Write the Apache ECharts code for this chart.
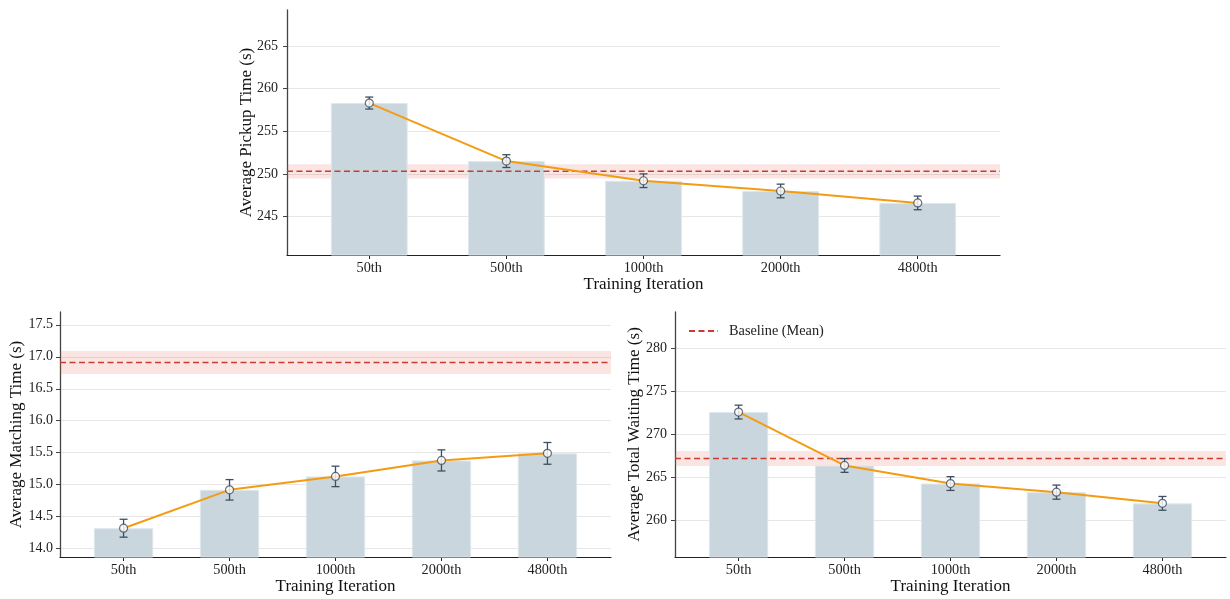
<!DOCTYPE html>
<html>
<head>
<meta charset="utf-8">
<script src="https://cdn.jsdelivr.net/npm/echarts@6/dist/echarts.min.js"></script>
<style>
  html, body { margin: 0; padding: 0; background: #fff; }
  #main { width: 1230px; height: 599px; }
</style>
</head>
<body>
<div id="main"></div>
<script>
// Training checkpoints shown on every x axis
const iterations = ['50th', '500th', '1000th', '2000th', '4800th'];

// Average pickup time (s)
const pickupMean = [258.3, 251.5, 249.2, 248.0, 246.6];
const pickupErr = [0.7, 0.75, 0.8, 0.8, 0.8];
const pickupBaseline = 250.3;
const pickupBaselineSpread = 0.84;
const pickupTicks = [245, 250, 255, 260, 265];

// Average matching time (s)
const matchingMean = [14.32, 14.92, 15.13, 15.38, 15.49];
const matchingErr = [0.14, 0.16, 0.16, 0.165, 0.17];
const matchingBaseline = 16.91;
const matchingBaselineSpread = 0.18;
const matchingTicks = [14.0, 14.5, 15.0, 15.5, 16.0, 16.5, 17.0, 17.5];

// Average total waiting time (s)
const waitingMean = [272.6, 266.4, 264.3, 263.3, 262.0];
const waitingErr = [0.8, 0.8, 0.8, 0.82, 0.8];
const waitingBaseline = 267.2;
const waitingBaselineSpread = 0.87;
const waitingTicks = [260, 265, 270, 275, 280];

const FONT = '"Liberation Serif", "Times New Roman", serif';
const X_MIN = -0.6, X_MAX = 4.6;
const BAR_FRACTION = 0.56;
const xPositions = iterations.map((_, i) => i);

const panels = [
  { title: 'Average Pickup Time (s)', mean: pickupMean, err: pickupErr,
    base: pickupBaseline, spread: pickupBaselineSpread, ticks: pickupTicks,
    grid: { left: 287, top: 10, width: 713, height: 245 },
    yMin: 240.5, yMax: 269.2, digits: 0, nameGap: 32, labelMargin: 9 },
  { title: 'Average Matching Time (s)', mean: matchingMean, err: matchingErr,
    base: matchingBaseline, spread: matchingBaselineSpread, ticks: matchingTicks,
    grid: { left: 60, top: 312, width: 551, height: 245 },
    yMin: 13.87, yMax: 17.7, digits: 1, nameGap: 35, labelMargin: 7 },
  { title: 'Average Total Waiting Time (s)', mean: waitingMean, err: waitingErr,
    base: waitingBaseline, spread: waitingBaselineSpread, ticks: waitingTicks,
    grid: { left: 675, top: 312, width: 551, height: 245 },
    yMin: 255.77, yMax: 284.22, digits: 0, nameGap: 32, labelMargin: 8 }
];

const grids = [], xAxes = [], yAxes = [], series = [];

panels.forEach((p, k) => {
  grids.push(p.grid);
  xAxes.push({
    gridIndex: k, type: 'value', min: X_MIN, max: X_MAX,
    axisLine: { show: true, onZero: false, lineStyle: { color: '#222', width: 1.2 } },
    axisTick: { show: true, customValues: xPositions, length: 4, lineStyle: { color: '#222' } },
    axisLabel: { customValues: xPositions, formatter: v => iterations[Math.round(v)],
      fontFamily: FONT, fontSize: 14.3, color: '#222', margin: 6 },
    splitLine: { show: false },
    name: 'Training Iteration', nameLocation: 'middle', nameGap: 21,
    nameMoveOverlap: false,
    nameTextStyle: { fontFamily: FONT, fontSize: 17, color: '#111' }
  });
  yAxes.push({
    gridIndex: k, type: 'value', min: p.yMin, max: p.yMax,
    axisLine: { show: true, onZero: false, lineStyle: { color: '#444', width: 1.3 } },
    axisTick: { show: true, customValues: p.ticks, length: 4, lineStyle: { color: '#444' } },
    axisLabel: { customValues: p.ticks, formatter: v => v.toFixed(p.digits),
      fontFamily: FONT, fontSize: 14, color: '#222', margin: p.labelMargin },
    splitLine: { show: true, lineStyle: { color: '#e6e6e6', width: 1 } },
    name: p.title, nameLocation: 'middle', nameGap: p.nameGap, nameRotate: 90,
    nameMoveOverlap: false,
    nameTextStyle: { fontFamily: FONT, fontSize: 17, color: '#111' }
  });

  const barWidth = p.grid.width * BAR_FRACTION / (X_MAX - X_MIN);

  series.push({
    type: 'bar', xAxisIndex: k, yAxisIndex: k, clip: true, z: 1,
    barWidth: barWidth,
    data: p.mean.map((v, i) => [i, v]),
    itemStyle: { color: '#cad6de', borderColor: '#dfe7ec', borderWidth: 1 },
    silent: true
  });

  series.push({
    name: 'Baseline (Mean)', type: 'line', xAxisIndex: k, yAxisIndex: k, z: 2,
    data: [[X_MIN, p.base], [X_MAX, p.base]],
    symbol: 'none',
    lineStyle: { color: '#cc3a30', width: 1.5, type: [6, 3.5] },
    itemStyle: { color: '#cc3a30' },
    markArea: {
      silent: true,
      itemStyle: { color: 'rgba(231, 100, 90, 0.17)' },
      data: [[{ yAxis: p.base - p.spread }, { yAxis: p.base + p.spread }]]
    },
    silent: true
  });

  series.push({
    type: 'line', xAxisIndex: k, yAxisIndex: k, z: 3,
    data: p.mean.map((v, i) => [i, v]),
    symbol: 'none',
    lineStyle: { color: '#f39c12', width: 2 },
    silent: true
  });

  series.push({
    type: 'custom', xAxisIndex: k, yAxisIndex: k, z: 4,
    data: p.mean.map((v, i) => [i, v - p.err[i], v + p.err[i]]),
    renderItem: (params, api) => {
      const x = api.value(0);
      const lo = api.coord([x, api.value(1)]);
      const hi = api.coord([x, api.value(2)]);
      const cap = 4;
      const style = { stroke: '#3e4e60', lineWidth: 1.3, fill: null };
      return {
        type: 'group',
        children: [
          { type: 'line', shape: { x1: lo[0], y1: lo[1], x2: hi[0], y2: hi[1] }, style },
          { type: 'line', shape: { x1: lo[0] - cap, y1: lo[1], x2: lo[0] + cap, y2: lo[1] }, style },
          { type: 'line', shape: { x1: hi[0] - cap, y1: hi[1], x2: hi[0] + cap, y2: hi[1] }, style }
        ]
      };
    },
    silent: true
  });

  series.push({
    type: 'scatter', xAxisIndex: k, yAxisIndex: k, z: 5,
    data: p.mean.map((v, i) => [i, v]),
    symbol: 'circle', symbolSize: 8,
    itemStyle: { color: '#ffffff', borderColor: '#3e4e60', borderWidth: 1.2 },
    silent: true
  });
});

const chart = echarts.init(document.getElementById('main'), null, { renderer: 'canvas' });
chart.setOption({
  animation: false,
  backgroundColor: '#ffffff',
  grid: grids,
  xAxis: xAxes,
  yAxis: yAxes,
  legend: {
    data: ['Baseline (Mean)'],
    left: 683, top: 319,
    itemWidth: 29, itemHeight: 14,
    itemStyle: { opacity: 0 },
    textStyle: { fontFamily: FONT, fontSize: 14.3, color: '#222', padding: [0, 0, 0, 6] },
    selectedMode: false
  },
  series: series
});
</script>
</body>
</html>
